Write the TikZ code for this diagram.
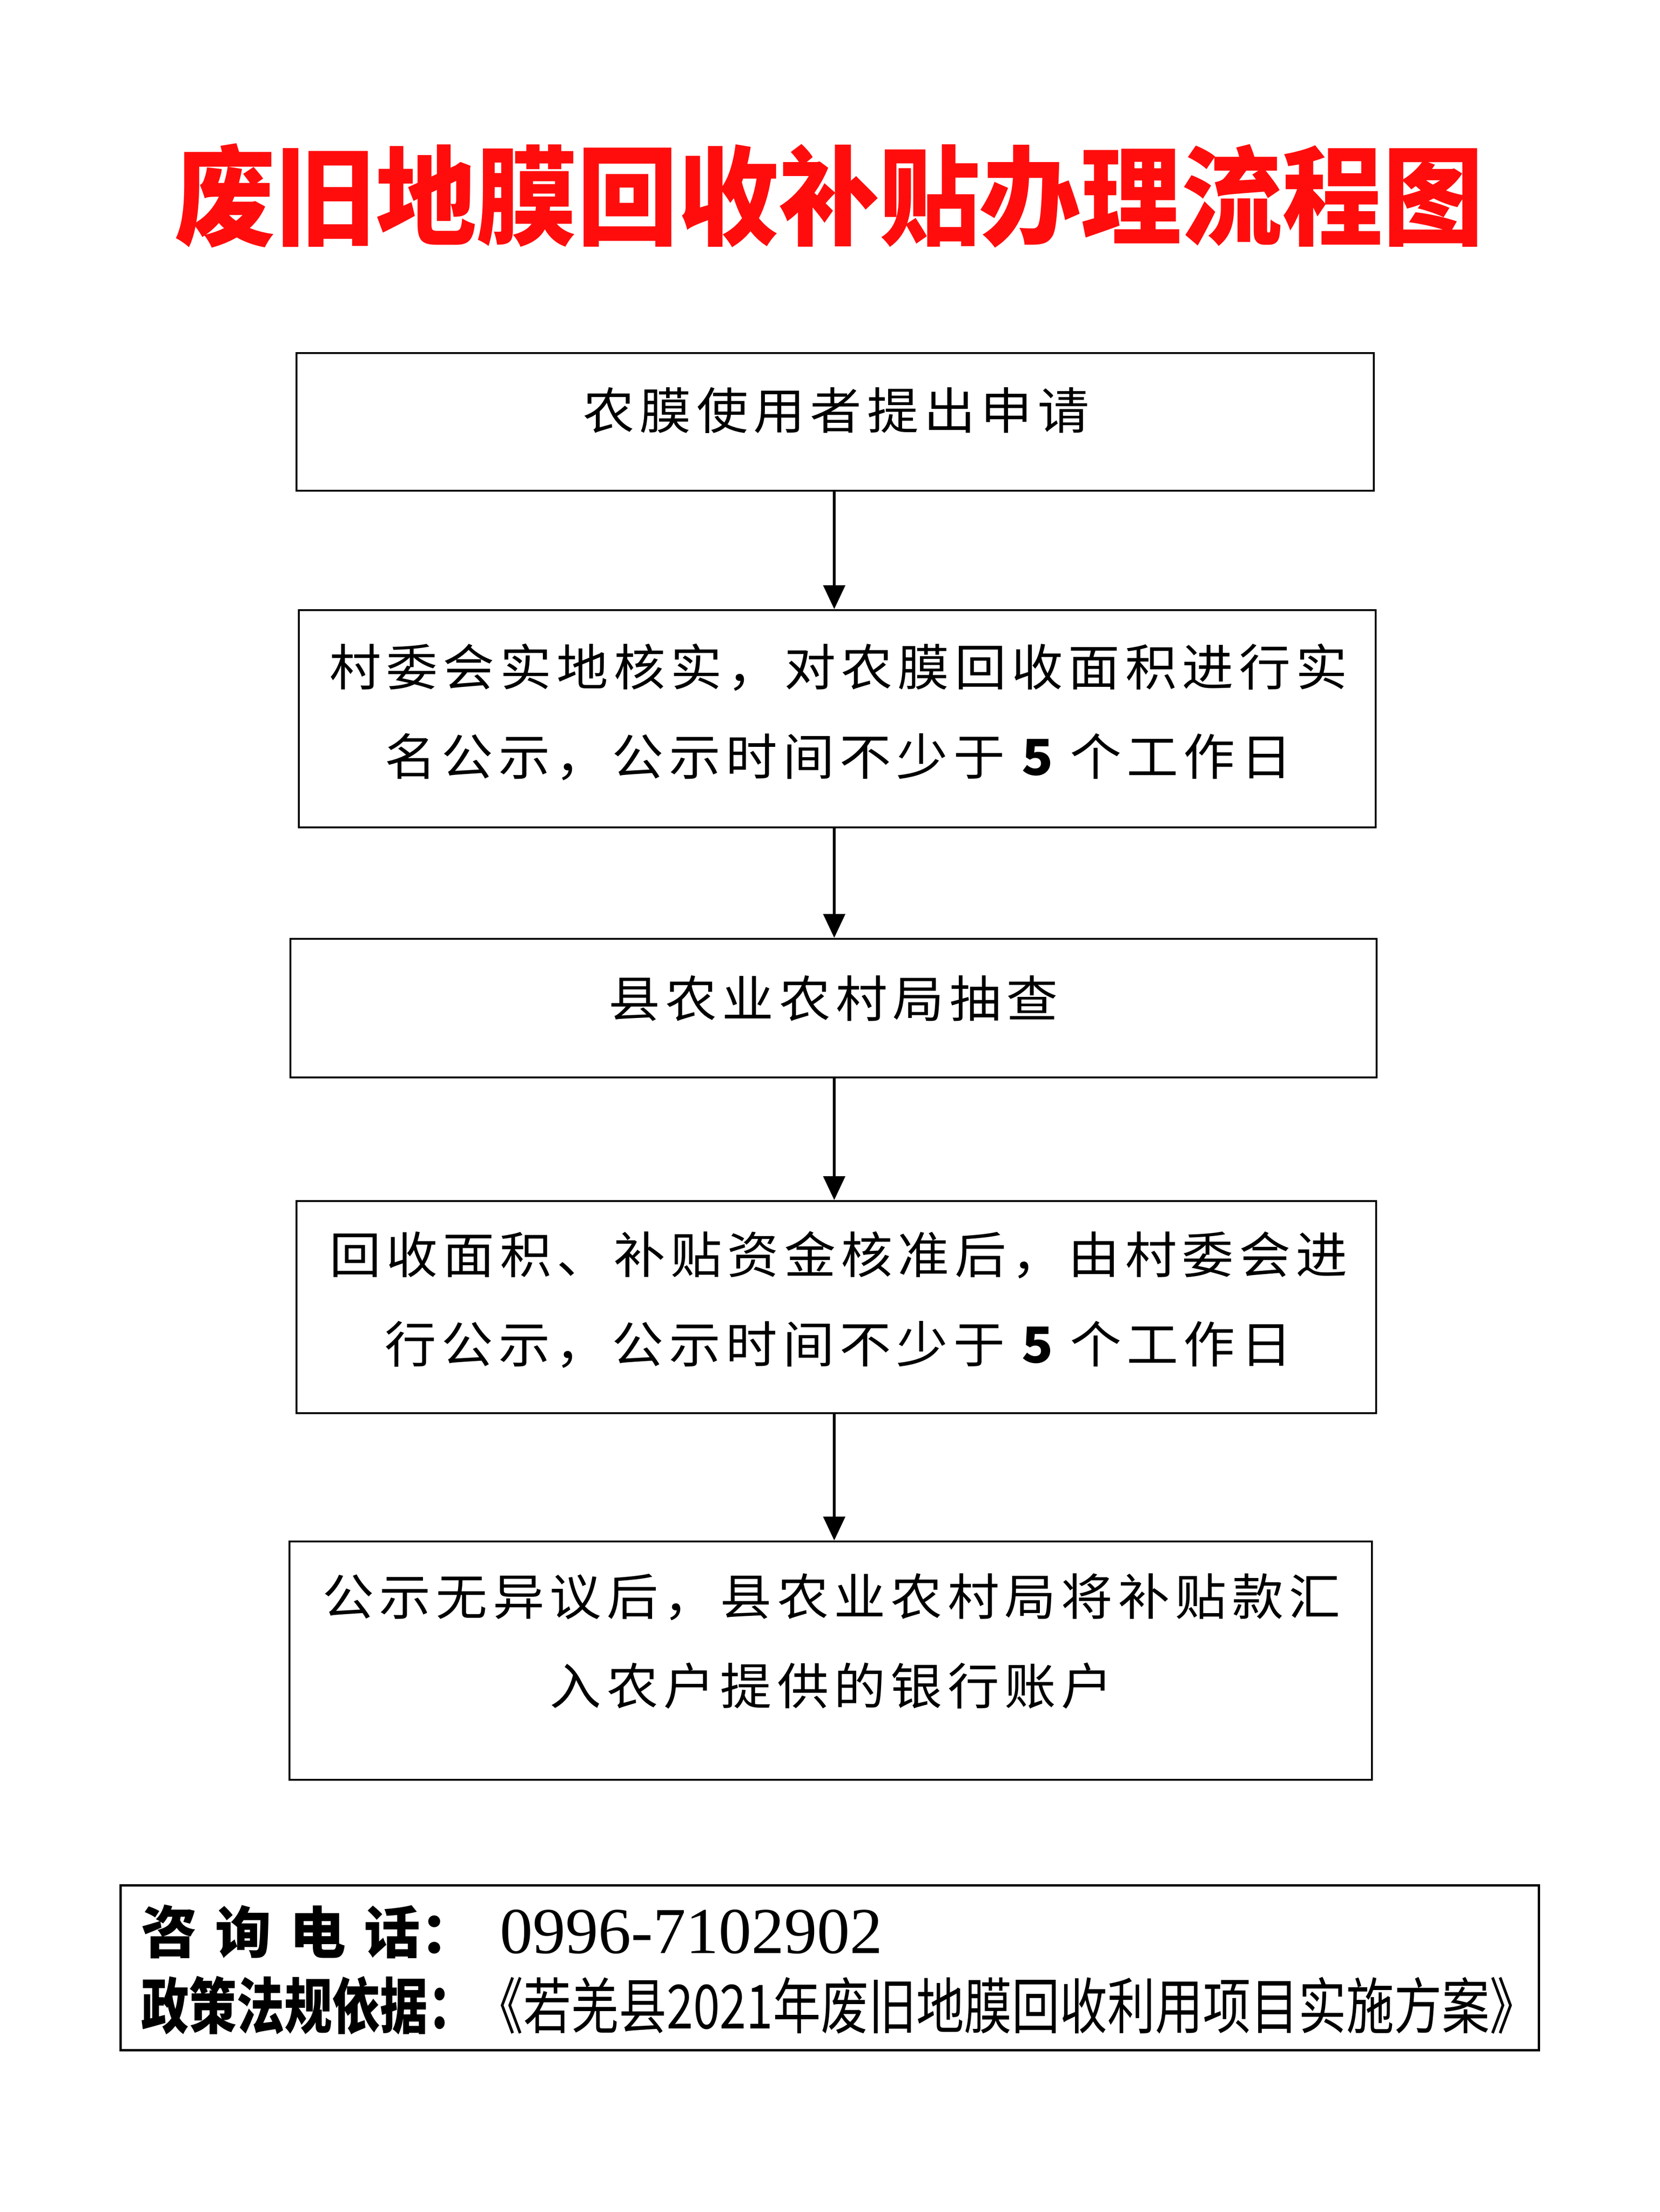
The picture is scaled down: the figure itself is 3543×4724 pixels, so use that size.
\documentclass[tikz,border=0pt]{standalone}
\usepackage{fontspec}
\setmainfont{Noto Sans CJK SC}
\newfontfamily\titlefont[FakeStretch=0.935]{Noto Sans CJK SC}
\newfontfamily\boxfont[FakeStretch=1.04,LetterSpace=10.5]{Noto Sans CJK SC}
\newfontfamily\narrowfont[FakeStretch=0.785]{Noto Sans CJK SC}
\newfontfamily\digitfont{Liberation Serif}
\usetikzlibrary{arrows.meta}
\definecolor{titlered}{HTML}{FF0D0D}
\begin{document}
\begin{tikzpicture}[x=0.1pt,y=-0.1pt,
  stepbox/.style={draw=black,line width=0.42pt,inner sep=0pt,rectangle},
  boxtext/.style={inner sep=0pt,align=center,font=\boxfont\fontsize{10.6pt}{19.1pt}\selectfont},
  arr/.style={line width=0.65pt,-{Triangle[width=4.6pt,length=5.1pt]}}]
\useasboundingbox (0,0) rectangle (3543,4724);
\fill[white] (0,0) rectangle (3543,4724);

% title
\node[inner sep=0pt,text=titlered,font=\titlefont\bfseries\fontsize{23pt}{26pt}\selectfont] (title) at (1770,418) {废旧地膜回收补贴办理流程图};

% boxes
\node[stepbox,minimum width=230pt,minimum height=29.4pt] (b1) at (1783,901) {};
\node[stepbox,minimum width=229.9pt,minimum height=46.4pt] (b2) at (1787.5,1535) {};
\node[stepbox,minimum width=231.9pt,minimum height=29.6pt] (b3) at (1779.5,2153) {};
\node[stepbox,minimum width=230.5pt,minimum height=45.3pt] (b4) at (1785.5,2791.5) {};
\node[stepbox,minimum width=231.1pt,minimum height=50.9pt] (b5) at (1773.5,3546.5) {};

% texts
\node[boxtext] (t1) at (1785,876) {农膜使用者提出申请};
\node[boxtext] (t2) at (1790,1521) {村委会实地核实，对农膜回收面积进行实\\名公示，公示时间不少于 {\bfseries 5} 个工作日};
\node[boxtext] (t3) at (1779,2132) {县农业农村局抽查};
\node[boxtext] (t4) at (1790,2776) {回收面积、补贴资金核准后，由村委会进\\行公示，公示时间不少于 {\bfseries 5} 个工作日};
\node[boxtext] (t5) at (1775,3505) {公示无异议后，县农业农村局将补贴款汇\\入农户提供的银行账户};

% arrows
\coordinate (ax) at (1781,0);
\draw[arr] (b1.south -| ax) -- (b2.north -| ax);
\draw[arr] (b2.south -| ax) -- (b3.north -| ax);
\draw[arr] (b3.south -| ax) -- (b4.north -| ax);
\draw[arr] (b4.south -| ax) -- (b5.north -| ax);

% bottom info box
\node[stepbox,line width=0.5pt,minimum width=302.9pt,minimum height=35.2pt] (info) at (1771.5,4202) {};
\node[anchor=west,inner sep=0pt,font=\bfseries\fontsize{12pt}{14pt}\selectfont] (phone) at (299,4125) {咨\kern3.9pt 询\kern3.9pt 电\kern3.9pt 话：\kern5pt{\digitfont\mdseries\fontsize{14pt}{16pt}\selectfont 0996-7102902}};
\node[anchor=west,inner sep=0pt,font=\narrowfont\fontsize{13pt}{15pt}\selectfont] (basis) at (299,4283) {{\bfseries 政策法规依据：}《若羌县2021年废旧地膜回收利用项目实施方案》};
\end{tikzpicture}
\end{document}
